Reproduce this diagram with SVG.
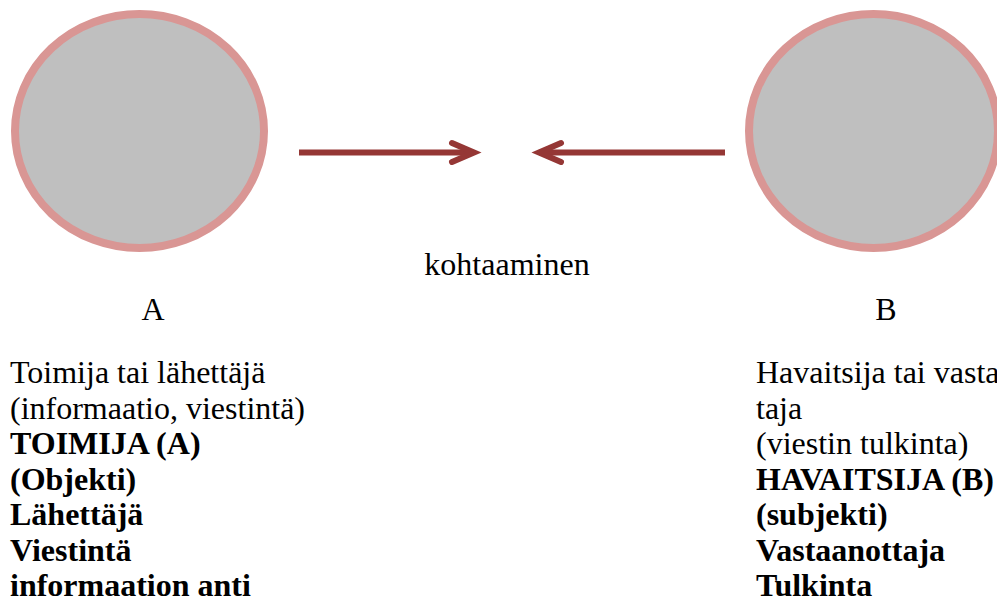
<svg xmlns="http://www.w3.org/2000/svg" width="997" height="610" viewBox="0 0 997 610">
  <style>
    .actor { fill: #BFBFBF; stroke: #D99694; stroke-width: 8; }
    .link { fill: none; stroke: #953735; stroke-width: 6; }
    .head { fill: none; stroke: #953735; stroke-width: 6; stroke-linecap: round; stroke-linejoin: miter; }
    text { font-family: "Liberation Serif", "Times New Roman", serif; font-size: 32px; fill: #000; }
    .b { font-weight: bold; }
  </style>
  <rect width="997" height="610" fill="#FFFFFF"/>

  <g id="node-a">
    <ellipse class="actor" cx="139.5" cy="131" rx="124.5" ry="117"/>
    <text x="153" y="320" text-anchor="middle">A</text>
    <text x="10" y="383">Toimija tai lähettäjä</text>
    <text x="10" y="418.5">(informaatio, viestintä)</text>
    <text class="b" x="10" y="454">TOIMIJA (A)</text>
    <text class="b" x="10" y="489.5">(Objekti)</text>
    <text class="b" x="10" y="525">Lähettäjä</text>
    <text class="b" x="10" y="560.5">Viestintä</text>
    <text class="b" x="10" y="596">informaation anti</text>
  </g>

  <g id="node-b">
    <ellipse class="actor" cx="873.5" cy="131" rx="124.5" ry="117"/>
    <text x="886" y="320" text-anchor="middle">B</text>
    <text x="756" y="383">Havaitsija tai vastaanot</text>
    <text x="756" y="418.5">taja</text>
    <text x="756" y="454">(viestin tulkinta)</text>
    <text class="b" x="756" y="489.5">HAVAITSIJA (B)</text>
    <text class="b" x="756" y="525">(subjekti)</text>
    <text class="b" x="756" y="560.5">Vastaanottaja</text>
    <text class="b" x="756" y="596">Tulkinta</text>
  </g>

  <g id="meeting">
    <text x="507" y="275" text-anchor="middle">kohtaaminen</text>
  </g>

  <g id="connectors">
    <line class="link" x1="299" y1="152.5" x2="473" y2="152.5"/>
    <polyline class="head" points="452,143 474,152.5 452,162"/>
    <line class="link" x1="539" y1="152.5" x2="725" y2="152.5"/>
    <polyline class="head" points="561,143 539,152.5 561,162"/>
  </g>
</svg>
